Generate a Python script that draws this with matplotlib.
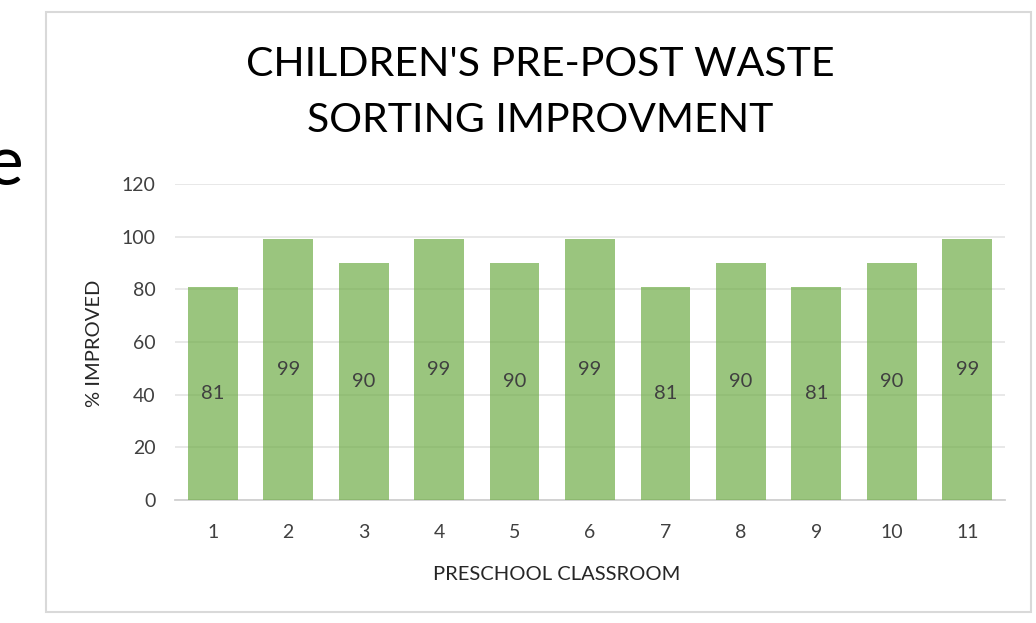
import matplotlib
matplotlib.use("Agg")
import matplotlib.pyplot as plt
from matplotlib.patches import Rectangle

# === DATA ====================================================================
classrooms = ["1", "2", "3", "4", "5", "6", "7", "8", "9", "10", "11"]
improved = [81, 99, 90, 99, 90, 99, 81, 90, 81, 90, 99]
title_lines = ["CHILDREN'S PRE-POST WASTE", "SORTING IMPROVMENT"]

plt.rcParams['font.family'] = ['Lato', 'DejaVu Sans']

W, H = 1036, 623
fig = plt.figure(figsize=(W / 100, H / 100), dpi=100)

# chart frame
fig.patches.append(Rectangle((46 / W, 1 - 612 / H), (1031 - 46) / W, (612 - 12) / H,
                             transform=fig.transFigure, fill=False,
                             edgecolor="#D9D9D9", lw=1.5))

# piece of slide text cut by the left edge
fig.text(-14 / W, 1 - 185 / H, "e", fontsize=50, color="black", va="baseline")

# === PLOT ====================================================================
ax = fig.add_axes([175 / W, 1 - 500 / H, (1005 - 175) / W, (500 - 184) / H])
x = range(len(classrooms))
bars = ax.bar(x, improved, width=0.66, color="#70AD47", alpha=0.7, zorder=3)

for xi, v in zip(x, improved):
    ax.text(xi, v / 2, str(v), ha="center", va="center", fontsize=14.5,
            color="#404040", zorder=4)

ax.set_xlim(-0.5, len(classrooms) - 0.5)
ax.set_ylim(0, 120)
ax.set_yticks(range(0, 121, 20))
ax.set_xticks(list(x))
ax.set_xticklabels(classrooms)
ax.tick_params(length=0, labelsize=14, colors="#404040")
ax.tick_params(axis="x", pad=17)
ax.tick_params(axis="y", pad=14)
ax.grid(axis="y", color="#E6E6E6", lw=1.3, zorder=0)
for s in ["top", "right", "left"]:
    ax.spines[s].set_visible(False)
ax.spines["bottom"].set_color("#D0D0D0")
ax.spines["bottom"].set_linewidth(1.3)

fig.text(95 / W, 1 - 343 / H, "% IMPROVED", rotation=90, ha="center", va="center",
         fontsize=14.5, color="#262626")
fig.text(557 / W, 1 - 575 / H, "PRESCHOOL CLASSROOM", ha="center", va="center",
         fontsize=14.5, color="#262626")

fig.text(540 / W, 1 - 65 / H, title_lines[0], ha="center", va="center",
         fontsize=29.5, color="black")
fig.text(540 / W, 1 - 121 / H, title_lines[1], ha="center", va="center",
         fontsize=29.5, color="black")

fig.savefig("out.png", dpi=100)
